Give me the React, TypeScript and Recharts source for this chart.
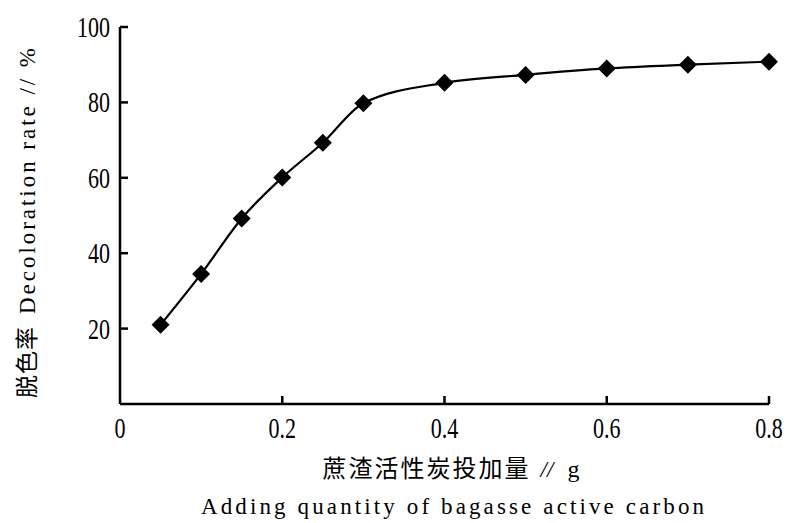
import { Line, LineChart, XAxis, YAxis } from "recharts";

// 蔗渣活性炭投加量 (g) vs 脱色率 (%)
const doses = [0.05, 0.1, 0.15, 0.2, 0.25, 0.3, 0.4, 0.5, 0.6, 0.7, 0.8];
const rates = [21, 34.5, 49.2, 60.1, 69.3, 79.8, 85.2, 87.3, 89, 90, 90.8];
const xTicks = [0, 0.2, 0.4, 0.6, 0.8];
const yTicks = [20, 40, 60, 80, 100];

const data = doses.map((x, i) => ({ x, rate: rates[i] }));

const SERIF = "'Liberation Serif', 'DejaVu Serif', serif";
const CJK = "'Noto Sans CJK SC', sans-serif";

function XTick(p: any) {
  const { x, y, payload } = p;
  return (
    <g>
      {payload.value > 0 && (
        <line x1={x} x2={x} y1={y} y2={y - 8} stroke="#000" strokeWidth={2.5} />
      )}
      <text
        transform={`translate(${x} ${y + 34}) scale(0.76 1)`}
        textAnchor="middle"
        fontFamily={SERIF}
        fontSize={29}
        fill="#000"
      >
        {payload.value === 0 ? "0" : payload.value.toFixed(1)}
      </text>
    </g>
  );
}

function YTick(p: any) {
  const { x, y, payload } = p;
  return (
    <g>
      <line x1={x} x2={x + 8} y1={y} y2={y} stroke="#000" strokeWidth={2.5} />
      <text
        transform={`translate(${x - 10} ${y + 10}) scale(0.76 1)`}
        textAnchor="end"
        fontFamily={SERIF}
        fontSize={29}
        fill="#000"
      >
        {payload.value}
      </text>
    </g>
  );
}

function Diamond(p: any) {
  const { cx, cy } = p;
  if (cx == null || cy == null) return null;
  const r = 9;
  return (
    <polygon
      points={`${cx},${cy - r} ${cx + r},${cy} ${cx},${cy + r} ${cx - r},${cy}`}
      fill="#000"
    />
  );
}

function XTitle(p: any) {
  const vb = p.viewBox;
  const cx = vb.x + vb.width / 2 + 8;
  return (
    <g fill="#000">
      <text x={cx - 130} y={vb.y + 73} fontFamily={CJK} fontSize={24} letterSpacing={2}>
        蔗渣活性炭投加量
      </text>
      <text x={cx + 88} y={vb.y + 73} fontFamily={SERIF} fontSize={23} fontStyle="italic">
        //
      </text>
      <text x={cx + 115} y={vb.y + 73} fontFamily={SERIF} fontSize={24}>
        g
      </text>
      <text
        x={cx}
        y={vb.y + 110}
        textAnchor="middle"
        fontFamily={SERIF}
        fontSize={23}
        textLength={503}
        lengthAdjust="spacing"
      >
        Adding quantity of bagasse active carbon
      </text>
    </g>
  );
}

function YTitle(p: any) {
  const vb = p.viewBox;
  const bottom = vb.y + vb.height - 6;
  return (
    <g transform={`translate(35 ${bottom}) rotate(-90)`} fill="#000">
      <text x={0} y={0} fontFamily={CJK} fontSize={23} letterSpacing={1}>
        脱色率
      </text>
      <text
        x={84}
        y={0}
        fontFamily={SERIF}
        fontSize={23}
        textLength={266}
        lengthAdjust="spacing"
      >
        Decoloration rate // %
      </text>
    </g>
  );
}

export default function App() {
  return (
    <div style={{ position: "absolute", left: 0, top: 0, width: 790, height: 523, background: "#fff" }}>
      <LineChart
        width={790}
        height={523}
        data={data}
        margin={{ top: 27, right: 21, bottom: 118, left: 119 }}
      >
        <XAxis
          type="number"
          dataKey="x"
          domain={[0, 0.8]}
          ticks={xTicks}
          height={1}
          tickSize={0}
          tickMargin={0}
          tickLine={false}
          tick={<XTick />}
          axisLine={{ stroke: "#000", strokeWidth: 2.5 }}
          label={<XTitle />}
          interval={0}
        />
        <YAxis
          type="number"
          domain={[0, 100]}
          ticks={yTicks}
          width={1}
          tickSize={0}
          tickMargin={0}
          tickLine={false}
          tick={<YTick />}
          axisLine={{ stroke: "#000", strokeWidth: 2.5 }}
          label={<YTitle />}
          interval={0}
        />
        <Line
          type="monotone"
          dataKey="rate"
          stroke="#000"
          strokeWidth={2.2}
          dot={<Diamond />}
          activeDot={false}
          isAnimationActive={false}
        />
      </LineChart>
    </div>
  );
}
